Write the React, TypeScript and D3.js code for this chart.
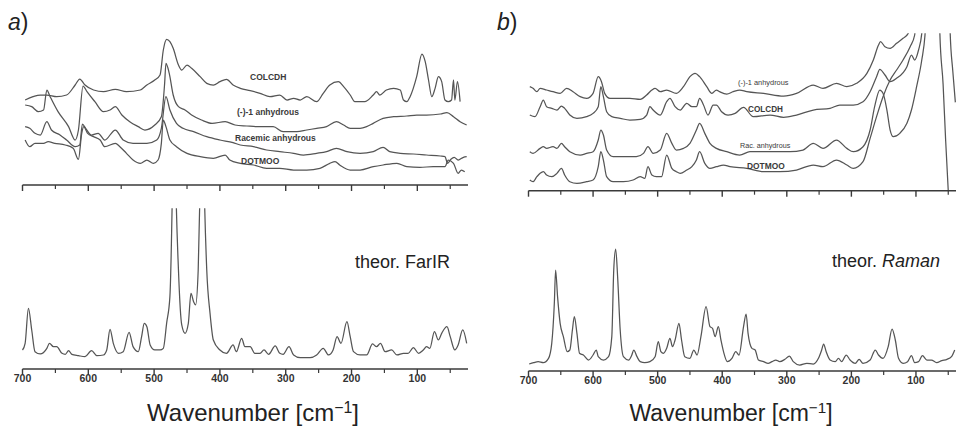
import React from "react";
import * as d3 from "d3";

// ---------- data: wavenumber [cm-1], intensity (arb. units) ----------
const majorTicks = [700, 600, 500, 400, 300, 200, 100];
const minorTicks = [650, 550, 450, 350, 250, 150, 50];

// panel a, experimental far-IR spectra
const aColcdh: [number, number][] = [[696,255],[684,265],[673,270],[663,270],[648,265],[633,270],[620,300],[613,318],[605,300],[592,285],[577,280],[559,287],[542,280],[521,285],[511,300],[499,315],[491,330],[486,405],[481,437],[476,430],[471,410],[463,360],[458,345],[450,360],[443,350],[430,325],[420,305],[410,300],[400,310],[390,317],[380,300],[369,290],[354,283],[339,275],[324,265],[309,270],[298,255],[288,260],[278,255],[268,265],[253,250],[243,275],[233,300],[220,310],[212,295],[202,270],[195,250],[180,250],[167,270],[162,280],[157,270],[147,285],[136,290],[126,285],[121,255],[116,250],[111,265],[101,325],[93,393],[88,370],[83,315],[78,265],[73,290],[68,325],[63,310],[58,255],[53,250],[48,255],[45,315],[43,255],[39,310],[35,250]];
const aMinus1: [number, number][] = [[696,240],[686,235],[676,220],[668,225],[663,285],[658,265],[646,220],[630,175],[620,135],[615,165],[608,297],[602,280],[590,250],[577,220],[567,225],[559,235],[549,210],[537,190],[524,175],[514,165],[499,180],[489,205],[484,305],[482,365],[477,335],[471,270],[463,235],[453,225],[443,210],[428,195],[412,185],[392,190],[377,180],[359,177],[344,175],[319,175],[304,160],[283,160],[268,165],[253,170],[238,175],[223,190],[212,180],[202,170],[187,170],[177,175],[167,185],[152,200],[136,205],[116,207],[101,210],[86,210],[65,213],[55,217],[45,205],[35,190],[25,180]];
const aRacemic: [number, number][] = [[696,175],[689,170],[681,155],[673,150],[663,190],[656,165],[643,150],[633,135],[620,115],[613,120],[609,183],[604,170],[595,150],[585,155],[575,135],[559,165],[547,135],[532,125],[511,125],[496,135],[489,170],[482,265],[476,225],[466,185],[456,170],[440,160],[420,145],[400,135],[380,127],[369,120],[349,115],[329,105],[309,100],[288,95],[273,90],[253,95],[238,100],[223,110],[207,100],[187,95],[167,100],[152,113],[142,100],[126,95],[106,93],[86,90],[65,87],[58,85],[54,65],[49,77],[44,83],[38,75],[30,83],[25,85]];
const aDotmoo: [number, number][] = [[696,135],[689,115],[681,125],[668,125],[661,130],[651,125],[635,120],[623,110],[615,77],[610,155],[607,175],[601,155],[592,145],[582,135],[575,115],[559,125],[552,115],[542,95],[532,75],[521,65],[511,75],[501,65],[494,75],[489,125],[486,195],[482,175],[476,135],[466,115],[450,95],[430,85],[410,80],[392,90],[385,75],[369,65],[349,60],[329,50],[309,50],[288,45],[268,45],[248,50],[233,65],[225,70],[218,60],[202,45],[187,45],[167,55],[152,60],[131,65],[116,55],[96,53],[76,55],[58,55],[53,75],[45,65],[38,35],[33,45],[28,40]];

// panel a, theoretical far-IR
const aTheor: [number, number][] = [[700,57],[696,77],[691,182],[686,117],[681,52],[673,45],[663,62],[659,77],[653,67],[648,67],[640,47],[635,44],[630,55],[625,44],[615,40],[605,37],[595,55],[587,40],[577,42],[572,57],[567,119],[562,77],[554,47],[547,52],[538,110],[532,67],[524,52],[519,97],[515,137],[511,127],[506,72],[499,57],[491,57],[486,62],[481,137],[476,217],[472,560],[469.5,900],[467,560],[463,297],[458,132],[453,107],[448,137],[444,227],[440,202],[437,192],[433,297],[430,560],[427,900],[424,560],[420,297],[415,167],[410,87],[400,57],[390,47],[380,72],[375,52],[367,92],[362,67],[354,67],[347,47],[339,47],[333,57],[326,44],[316,69],[309,47],[304,44],[295,67],[288,42],[278,34],[263,34],[253,42],[243,62],[235,42],[228,57],[222,97],[216,77],[207,142],[202,97],[197,52],[187,42],[177,42],[168,75],[162,67],[156,77],[149,52],[139,57],[131,42],[121,47],[114,47],[106,64],[98,47],[91,57],[86,67],[81,62],[74,112],[68,87],[63,107],[55,127],[50,97],[43,57],[38,72],[31,117],[25,77]];

// panel b, experimental Raman spectra
const bMinus1: [number, number][] = [[698,312],[693,307],[687,297],[682,307],[672,302],[662,297],[651,292],[641,307],[631,297],[620,282],[610,277],[600,292],[592,342],[587,327],[582,292],[574,277],[558,277],[543,277],[527,274],[517,287],[509,302],[504,307],[496,297],[486,302],[471,292],[460,312],[450,342],[442,352],[435,342],[424,312],[416,292],[409,302],[404,297],[393,290],[383,297],[373,302],[362,297],[336,292],[305,284],[285,292],[259,317],[244,307],[223,322],[207,312],[192,322],[176,352],[166,392],[158,437],[155,447],[148,432],[140,427],[130,442],[120,457],[112,472],[100,650],[75,1500],[38,2500]];
const bColcdh: [number, number][] = [[698,227],[690,222],[682,252],[677,272],[672,252],[664,247],[656,242],[649,254],[644,247],[636,227],[625,217],[610,222],[600,232],[592,252],[588,312],[584,282],[579,237],[571,222],[558,217],[543,212],[527,214],[517,227],[512,252],[507,242],[496,227],[486,267],[481,277],[473,252],[465,242],[455,262],[447,252],[440,252],[435,277],[429,257],[422,227],[414,257],[409,257],[401,237],[391,227],[380,232],[367,250],[352,222],[326,227],[305,220],[285,227],[259,242],[233,247],[218,257],[197,257],[182,267],[171,297],[161,342],[156,364],[148,347],[140,327],[130,337],[114,372],[107,407],[102,392],[96,422],[91,472],[80,900],[60,2000],[38,2500]];
const bRacemic: [number, number][] = [[698,117],[693,112],[682,127],[677,132],[672,127],[662,132],[656,127],[649,142],[644,132],[636,117],[620,107],[610,112],[600,117],[592,152],[588,182],[584,167],[579,122],[569,102],[548,102],[533,102],[522,112],[515,132],[507,112],[496,122],[486,172],[478,142],[471,122],[460,127],[450,142],[440,182],[435,202],[427,172],[419,142],[409,127],[393,117],[373,107],[357,117],[326,117],[295,117],[275,122],[259,142],[244,127],[223,152],[207,127],[197,117],[182,132],[171,182],[164,252],[156,302],[151,292],[145,242],[140,182],[135,162],[125,172],[114,202],[107,242],[99,312],[91,392],[86,467],[70,1500],[58,1500],[50,700],[47,472],[43,360],[39,265]];
const bDotmoo: [number, number][] = [[698,32],[693,27],[687,42],[682,52],[677,57],[672,47],[664,42],[656,52],[649,67],[644,47],[636,27],[625,22],[610,27],[600,32],[592,72],[588,117],[584,92],[579,42],[569,27],[553,27],[538,32],[527,42],[520,37],[515,72],[509,47],[502,42],[494,42],[486,107],[478,67],[471,57],[465,52],[455,62],[447,72],[440,92],[435,117],[427,82],[419,67],[409,72],[398,77],[388,72],[362,67],[336,57],[311,57],[285,62],[259,77],[244,72],[223,92],[207,77],[197,67],[182,87],[171,157],[161,222],[151,282],[140,332],[130,362],[120,392],[109,432],[102,467],[85,1800],[70,1800],[63,472],[58,320],[54,150],[50,0]];

// panel b, theoretical Raman
const bTheor: [number, number][] = [[699,21],[692,25],[685,28],[677,25],[669,38],[664,83],[660,203],[658,303],[655,223],[651,143],[646,103],[640,58],[636,63],[632,123],[629,163],[625,113],[621,53],[615,48],[607,33],[600,48],[595,63],[592,43],[584,33],[576,43],[571,103],[568,303],[565,366],[562,283],[558,123],[553,43],[545,33],[540,48],[537,63],[532,43],[527,28],[520,25],[512,28],[504,43],[499,88],[495,58],[491,53],[486,68],[481,98],[477,73],[473,93],[467,143],[463,93],[458,43],[450,38],[444,63],[439,48],[433,103],[425,193],[419,133],[415,128],[411,103],[406,133],[402,93],[398,58],[392,28],[385,38],[379,58],[374,48],[367,133],[363,171],[360,113],[354,68],[349,63],[344,33],[336,28],[329,23],[323,28],[317,33],[311,28],[303,35],[296,45],[290,28],[280,18],[269,23],[259,21],[251,38],[246,63],[243,81],[239,58],[233,33],[225,28],[220,38],[215,28],[208,48],[202,33],[194,23],[188,35],[182,23],[171,33],[163,63],[158,48],[151,38],[143,73],[137,126],[132,93],[127,38],[120,23],[113,28],[107,46],[102,25],[96,28],[90,46],[83,33],[76,33],[68,25],[60,31],[52,35],[45,43],[40,63]];

// ---------- layout ----------
const FONT = "'Liberation Sans', Arial, Helvetica, sans-serif";
const LINE = "#555555";
const AXIS = "#3a3a3a";

const xA = d3.scaleLinear().domain([700, 23]).range([22.5, 468]);
const xB = d3.scaleLinear().domain([700, 38]).range([528.5, 956]);
const yATop = d3.scaleLinear().domain([0, 555]).range([185, 0]);
const yABot = d3.scaleLinear().domain([0, 482]).range([369, 208.3]);
const yBTop = d3.scaleLinear().domain([0, 572]).range([190.7, 0]);
const yBBot = d3.scaleLinear().domain([0, 603]).range([371, 170]);

function Curve({ data, x, y, clip }: { data: [number, number][]; x: any; y: any; clip?: string }) {
  const gen = d3
    .line<[number, number]>()
    .x((d) => x(d[0]))
    .y((d) => y(d[1]))
    .curve(d3.curveMonotoneX);
  return (
    <path
      d={gen(data) || ""}
      fill="none"
      stroke={LINE}
      strokeWidth={1.25}
      strokeLinejoin="round"
      clipPath={clip ? `url(#${clip})` : undefined}
    />
  );
}

function Axis({ x, y0, labels }: { x: any; y0: number; labels: boolean }) {
  const [r0, r1] = x.range();
  return (
    <g>
      <line x1={r0} x2={r1} y1={y0} y2={y0} stroke={AXIS} strokeWidth={1.4} />
      {majorTicks.map((t) => (
        <line key={"M" + t} x1={x(t)} x2={x(t)} y1={y0} y2={y0 + 6} stroke={AXIS} strokeWidth={1.4} />
      ))}
      {minorTicks.map((t) => (
        <line key={"m" + t} x1={x(t)} x2={x(t)} y1={y0} y2={y0 + 4} stroke={AXIS} strokeWidth={1.2} />
      ))}
      {labels &&
        majorTicks.map((t) => (
          <text
            key={"L" + t}
            x={x(t)}
            y={y0 + 13}
            textAnchor="middle"
            fontFamily={FONT}
            fontWeight="bold"
            fontSize={10.5}
            fill="#333"
          >
            {t}
          </text>
        ))}
    </g>
  );
}

function AxisTitle({ cx, y, size }: { cx: number; y: number; size: number }) {
  return (
    <text x={cx} y={y} textAnchor="middle" fontFamily={FONT} fontSize={size} fill="#222">
      Wavenumber [cm
      <tspan dy={-8} fontSize={size * 0.66}>
        −1
      </tspan>
      <tspan dy={8}>]</tspan>
    </text>
  );
}

function Label({ x, y, size, bold, children }: any) {
  return (
    <text x={x} y={y} fontFamily={FONT} fontSize={size} fontWeight={bold ? "bold" : "normal"} fill="#3a3a3a">
      {children}
    </text>
  );
}

export default function App() {
  return (
    <svg
      width={956}
      height={426}
      viewBox="0 0 956 426"
      style={{ position: "absolute", left: 0, top: 0, background: "#fff" }}
    >
      <defs>
        <clipPath id="clipABot">
          <rect x={0} y={208.3} width={480} height={165} />
        </clipPath>
        <clipPath id="clipBTop">
          <rect x={515} y={33.3} width={441} height={160} />
        </clipPath>
      </defs>
      <rect x={0} y={0} width={956} height={426} fill="#fff" />

      {/* panel letters */}
      <text x={8} y={30} fontFamily={FONT} fontSize={23} fill="#222">
        <tspan fontStyle="italic">a</tspan>)
      </text>
      <text x={497} y={30} fontFamily={FONT} fontSize={23} fill="#222">
        <tspan fontStyle="italic">b</tspan>)
      </text>

      {/* ---- panel a ---- */}
      <Curve data={aColcdh} x={xA} y={yATop} />
      <Curve data={aMinus1} x={xA} y={yATop} />
      <Curve data={aRacemic} x={xA} y={yATop} />
      <Curve data={aDotmoo} x={xA} y={yATop} />
      <Label x={250} y={80} size={8.5} bold>COLCDH</Label>
      <Label x={237} y={115} size={8.5} bold>(-)-1 anhydrous</Label>
      <Label x={235} y={140.5} size={8.5} bold>Racemic anhydrous</Label>
      <Label x={241} y={164} size={8.5} bold>DOTMOO</Label>
      <Axis x={xA} y0={185} labels={false} />

      <Curve data={aTheor} x={xA} y={yABot} clip="clipABot" />
      <text x={355} y={268} fontFamily={FONT} fontSize={18} fill="#222">
        theor. FarIR
      </text>
      <Axis x={xA} y0={369} labels={true} />
      <AxisTitle cx={253} y={421} size={24} />

      {/* ---- panel b ---- */}
      <Curve data={bMinus1} x={xB} y={yBTop} clip="clipBTop" />
      <Curve data={bColcdh} x={xB} y={yBTop} clip="clipBTop" />
      <Curve data={bRacemic} x={xB} y={yBTop} clip="clipBTop" />
      <Curve data={bDotmoo} x={xB} y={yBTop} clip="clipBTop" />
      <Label x={738} y={84.5} size={7.4}>(-)-1 anhydrous</Label>
      <Label x={748} y={111.5} size={8.2} bold>COLCDH</Label>
      <Label x={740} y={148} size={7.2}>Rac. anhydrous</Label>
      <Label x={747} y={169} size={8.4} bold>DOTMOO</Label>
      <Axis x={xB} y0={190.7} labels={false} />

      <Curve data={bTheor} x={xB} y={yBBot} />
      <text x={832} y={267} fontFamily={FONT} fontSize={18} fill="#222">
        theor. <tspan fontStyle="italic">Raman</tspan>
      </text>
      <Axis x={xB} y0={371} labels={true} />
      <AxisTitle cx={731} y={421} size={23} />
    </svg>
  );
}
